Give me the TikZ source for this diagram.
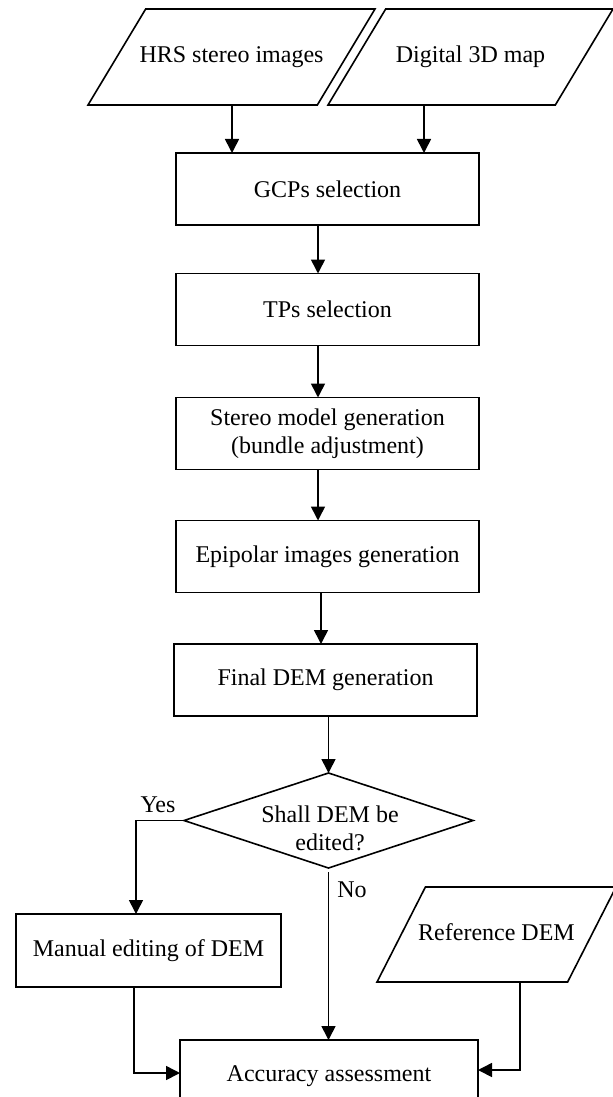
\documentclass[tikz,border=0pt]{standalone}
\usepackage{fontspec}
\setmainfont{Liberation Serif}
\usetikzlibrary{shapes.geometric,arrows.meta}

\begin{document}
\begin{tikzpicture}[x=0.5pt,y=-0.5pt,
    font=\fontsize{12}{14}\selectfont,
    procbox/.style={draw,line width=0.8pt,minimum width=151.5pt,minimum height=36pt,inner sep=0pt,outer sep=0pt,align=center},
    databox/.style={draw,line width=0.8pt,trapezium,trapezium stretches body,text height=9pt,text depth=3pt,inner xsep=0pt,inner ysep=18pt,outer sep=0pt},
    flow/.style={line width=0.8pt,-{Triangle[length=7pt,width=7pt]}}]
    \useasboundingbox (0,0) rectangle (613,1097);
    \clip (0,0) rectangle (613,1097);
    \node[databox,trapezium left angle=59,trapezium right angle=121,inner xsep=-6pt,minimum width=143.5pt] (hrs) at (231.5,57) {HRS stereo images};
    \node[databox,trapezium left angle=59,trapezium right angle=121,minimum width=142.5pt] (map) at (470.5,57) {Digital 3D map};
    \node[procbox] (gcp) at (327.5,189) {GCPs selection};
    \node[procbox] (tp) at (327.5,309.5) {TPs selection};
    \node[procbox] (sm) at (327.5,433.5) {Stereo model generation\\(bundle adjustment)};
    \node[procbox] (epi) at (327.5,556.5) {Epipolar images generation};
    \node[procbox] (dem) at (325.5,680) {Final DEM generation};
    \node[draw,line width=0.8pt,diamond,minimum width=144.5pt,minimum height=47.5pt,inner sep=0pt,outer sep=0pt] (dec) at (328.5,820.5) {};
    \node[align=center] (dectxt) at (330,828) {Shall DEM be\\edited?};
    \node[procbox,minimum width=132.5pt,minimum height=36.5pt] (man) at (148.5,950.5) {Manual editing of DEM};
    \node[databox,trapezium left angle=63,trapezium right angle=117,inner xsep=-4pt,inner ysep=17.75pt,minimum width=119.5pt] (ref) at (496.5,934.5) {Reference DEM};
    \node[procbox,minimum width=149pt] (acc) at (329,1076) {Accuracy assessment};
    \node (yes) at (158,805) {Yes};
    \node (no) at (352,890) {No};
    \coordinate (hrsout) at ([xshift=72pt]hrs.bottom left corner);
    \coordinate (mapout) at ([xshift=48pt]map.bottom left corner);
    \coordinate (refout) at ([xshift=71.5pt]ref.bottom left corner);
    \draw[flow] (hrsout) -- (hrsout |- gcp.north);
    \draw[flow] (mapout) -- (mapout |- gcp.north);
    \draw[flow] ([xshift=-4.75pt]gcp.south) -- ([xshift=-4.75pt]tp.north);
    \draw[flow] ([xshift=-4.75pt]tp.south) -- ([xshift=-4.75pt]sm.north);
    \draw[flow] ([xshift=-4.75pt]sm.south) -- ([xshift=-4.75pt]epi.north);
    \draw[flow] ([xshift=-3.25pt]epi.south) -- ([xshift=-2.25pt]dem.north);
    \draw[flow] (dec.north |- dem.south) -- (dec.north);
    \draw[flow] (dec.west) -| ([xshift=-6.25pt]man.north);
    \draw[flow,shorten <=2pt] (dec.south) -- (dec.south |- acc.north);
    \draw[flow] ([xshift=-7.25pt]man.south) |- ([yshift=1.5pt]acc.west);
    \draw[flow] (refout) |- ([yshift=3pt]acc.east);
\end{tikzpicture}
\end{document}
